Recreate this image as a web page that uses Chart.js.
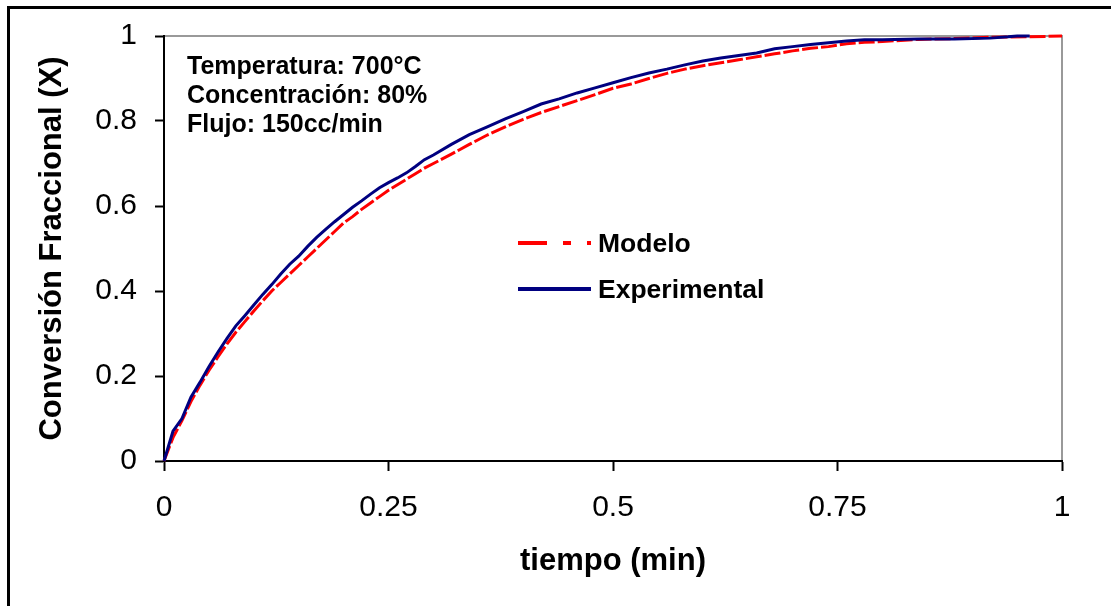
<!DOCTYPE html>
<html>
<head>
<meta charset="utf-8">
<title>Conversión Fraccional vs tiempo</title>
<script src="https://cdn.jsdelivr.net/npm/chart.js@4.4.1/dist/chart.umd.min.js"></script>
<style>
  html, body { margin: 0; padding: 0; background: #fff; }
  canvas { display: block; }
</style>
</head>
<body>
<canvas id="chart" width="1111" height="606"></canvas>
<script>
// datos
const expTime = [0, 0.01, 0.02, 0.03, 0.04, 0.05, 0.06, 0.07, 0.08, 0.09, 0.10, 0.11, 0.12, 0.13, 0.14, 0.15,
  0.16, 0.17, 0.18, 0.19, 0.20, 0.21, 0.22, 0.23, 0.24, 0.25, 0.26, 0.27, 0.28, 0.29, 0.30, 0.32, 0.34,
  0.36, 0.38, 0.40, 0.42, 0.44, 0.46, 0.48, 0.50, 0.52, 0.54, 0.56, 0.58, 0.60, 0.62, 0.64, 0.66, 0.68,
  0.70, 0.72, 0.74, 0.76, 0.78, 0.80, 0.84, 0.88, 0.92, 0.94, 0.95, 0.964];
const expConv = [0, 0.07, 0.10, 0.15, 0.185, 0.222, 0.256, 0.288, 0.318, 0.342, 0.367, 0.392, 0.415, 0.440, 0.463, 0.482,
  0.505, 0.526, 0.545, 0.563, 0.580, 0.597, 0.612, 0.628, 0.643, 0.655, 0.666, 0.678, 0.693, 0.709, 0.720, 0.745, 0.768,
  0.786, 0.805, 0.822, 0.840, 0.852, 0.866, 0.878, 0.890, 0.902, 0.913, 0.922, 0.932, 0.941, 0.948, 0.954, 0.960, 0.970,
  0.975, 0.980, 0.984, 0.988, 0.991, 0.991, 0.993, 0.993, 0.995, 0.998, 1.0, 1.0];

const modTime = [0, 0.01, 0.02, 0.03, 0.04, 0.05, 0.06, 0.07, 0.08, 0.09, 0.10, 0.11, 0.12, 0.13, 0.14, 0.15,
  0.16, 0.17, 0.18, 0.19, 0.20, 0.21, 0.22, 0.23, 0.24, 0.25, 0.26, 0.27, 0.28, 0.29, 0.30, 0.32, 0.34,
  0.36, 0.38, 0.40, 0.42, 0.44, 0.46, 0.48, 0.50, 0.52, 0.54, 0.56, 0.58, 0.60, 0.62, 0.64, 0.66, 0.68,
  0.70, 0.72, 0.74, 0.76, 0.78, 0.80, 0.84, 0.88, 0.92, 0.96, 1.00];
const modConv = [0, 0.055, 0.095, 0.14, 0.178, 0.213, 0.245, 0.275, 0.303, 0.328, 0.353, 0.377, 0.400, 0.420, 0.440, 0.460,
  0.480, 0.500, 0.520, 0.540, 0.560, 0.575, 0.592, 0.607, 0.622, 0.637, 0.650, 0.663, 0.676, 0.689, 0.700, 0.722, 0.745,
  0.767, 0.786, 0.804, 0.820, 0.834, 0.848, 0.862, 0.877, 0.887, 0.900, 0.912, 0.922, 0.930, 0.937, 0.944, 0.951, 0.958,
  0.965, 0.971, 0.975, 0.982, 0.985, 0.987, 0.992, 0.994, 0.997, 0.998, 1.0];

const xTicks = [0, 0.25, 0.5, 0.75, 1];
const xTickLabels = ['0', '0.25', '0.5', '0.75', '1'];
const yTicks = [0, 0.2, 0.4, 0.6, 0.8, 1];
const yTickLabels = ['0', '0.2', '0.4', '0.6', '0.8', '1'];

const seriesNames = ['Modelo', 'Experimental'];
const noteLines = ['Temperatura: 700°C', 'Concentración: 80%', 'Flujo: 150cc/min'];

const FONT = '"Liberation Sans", Arial, Helvetica, sans-serif';

function toPoints(xs, ys) {
    return xs.map((x, i) => ({ x: x, y: ys[i] }));
}

// marco exterior y borde gris del area de trazado
const framePlugin = {
    id: 'frame',
    beforeDraw(chart) {
        const { ctx, width, height, chartArea: a } = chart;
        ctx.save();
        ctx.fillStyle = '#fff';
        ctx.fillRect(0, 0, width, height);
        ctx.strokeStyle = '#000';
        ctx.lineWidth = 3;
        ctx.beginPath();
        ctx.moveTo(8.5, height + 5);
        ctx.lineTo(8.5, 7.5);
        ctx.lineTo(width + 5, 7.5);
        ctx.stroke();
        ctx.strokeStyle = '#999';
        ctx.lineWidth = 2;
        ctx.beginPath();
        ctx.moveTo(a.left, a.top);
        ctx.lineTo(a.right, a.top);
        ctx.lineTo(a.right, a.bottom);
        ctx.stroke();
        ctx.restore();
    }
};

// texto de condiciones y leyenda dentro del grafico
const notesPlugin = {
    id: 'notes',
    afterDraw(chart) {
        const ctx = chart.ctx;
        ctx.save();
        ctx.fillStyle = '#000';
        ctx.textBaseline = 'alphabetic';
        ctx.textAlign = 'left';
        ctx.font = 'bold 25px ' + FONT;
        noteLines.forEach((t, i) => ctx.fillText(t, 187, 74 + i * 29));

        const legendDash = [[29, 16, 8, 16], []];
        const legendY = [243, 289];
        ctx.font = 'bold 26.5px ' + FONT;
        chart.data.datasets.forEach((ds, i) => {
            const y = legendY[i];
            ctx.strokeStyle = ds.borderColor;
            ctx.lineWidth = 4;
            ctx.setLineDash(legendDash[i]);
            ctx.beginPath();
            ctx.moveTo(518, y);
            ctx.lineTo(591, y);
            ctx.stroke();
            ctx.setLineDash([]);
            ctx.fillText(ds.label, 598, y + 9);
        });
        ctx.restore();
    }
};

const ctx = document.getElementById('chart').getContext('2d');
new Chart(ctx, {
    type: 'scatter',
    data: {
        datasets: [
            {
                label: seriesNames[0],
                data: toPoints(modTime, modConv),
                showLine: true,
                borderColor: '#ff0000',
                borderWidth: 3,
                borderDash: [16, 3],
                pointRadius: 0,
                tension: 0,
                clip: 6,
                order: 1
            },
            {
                label: seriesNames[1],
                data: toPoints(expTime, expConv),
                showLine: true,
                borderColor: '#000080',
                borderWidth: 3,
                pointRadius: 0,
                tension: 0,
                clip: 6,
                order: 0
            }
        ]
    },
    options: {
        responsive: false,
        animation: false,
        layout: { padding: { left: 0, top: 34, right: 49, bottom: 0 } },
        plugins: {
            legend: { display: false },
            tooltip: { enabled: false }
        },
        scales: {
            x: {
                type: 'linear',
                position: 'bottom',
                min: 0,
                max: 1,
                afterBuildTicks: s => { s.ticks = xTicks.map(v => ({ value: v })); },
                afterFit: s => { s.height = 145; },
                ticks: {
                    callback: (v, i) => xTickLabels[i],
                    color: '#000',
                    font: { family: FONT, size: 30 },
                    padding: 19,
                    maxRotation: 0
                },
                grid: { drawOnChartArea: false, tickLength: 10, tickWidth: 2, tickColor: '#000' },
                border: { color: '#000', width: 2 },
                title: {
                    display: true,
                    text: 'tiempo (min)',
                    color: '#000',
                    font: { family: FONT, size: 31, weight: 'bold', lineHeight: 1 },
                    padding: { top: 0, bottom: 29.5 }
                }
            },
            y: {
                type: 'linear',
                min: 0,
                max: 1,
                afterBuildTicks: s => { s.ticks = yTicks.map(v => ({ value: v })); },
                afterFit: s => { s.width = 164; },
                ticks: {
                    callback: (v, i) => yTickLabels[i],
                    color: '#000',
                    font: { family: FONT, size: 30 },
                    padding: 18
                },
                grid: { drawOnChartArea: false, tickLength: 9, tickWidth: 2, tickColor: '#000' },
                border: { color: '#000', width: 2 },
                title: {
                    display: true,
                    text: 'Conversión Fraccional (X)',
                    color: '#000',
                    font: { family: FONT, size: 31, weight: 'bold', lineHeight: 1 },
                    padding: { top: 36.5, bottom: 0 }
                }
            }
        }
    },
    plugins: [framePlugin, notesPlugin]
});
</script>
</body>
</html>
